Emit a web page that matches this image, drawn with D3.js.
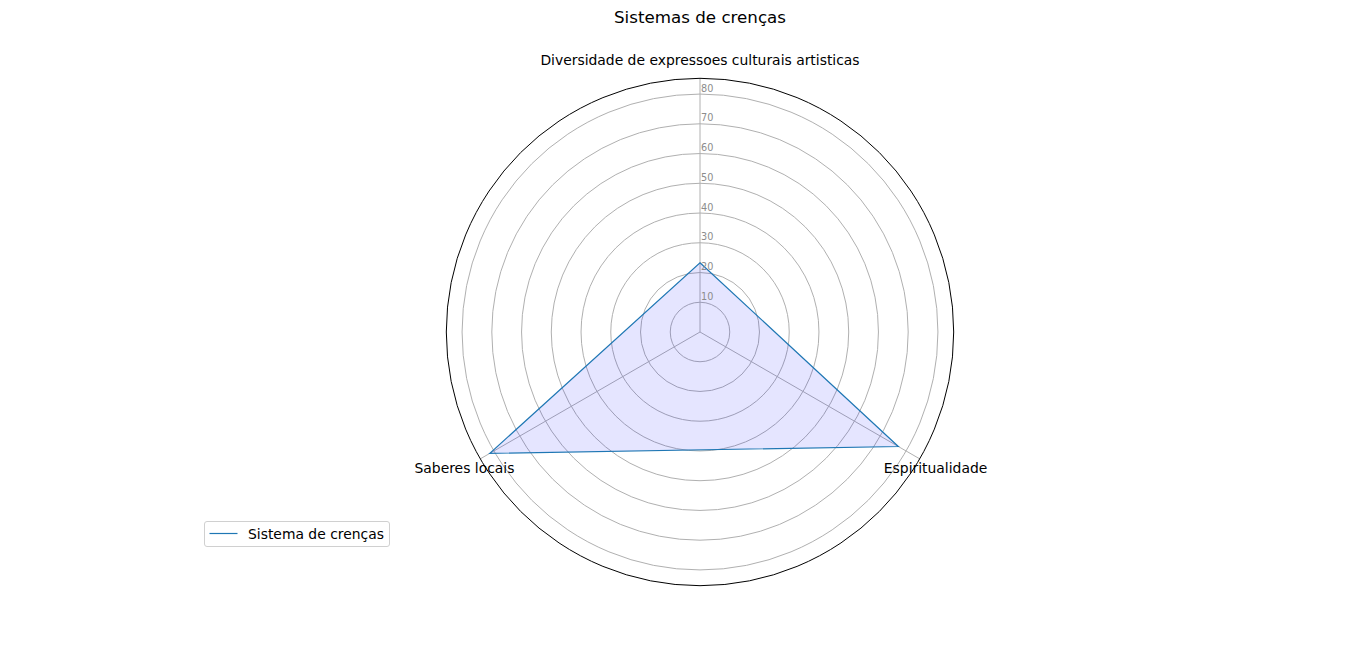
<!DOCTYPE html>
<html>
<head>
<meta charset="utf-8">
<script src="https://cdn.jsdelivr.net/npm/d3@7"></script>
<style>
  body { margin: 0; background: #fff; }
  text { font-family: "DejaVu Sans", sans-serif; }
</style>
</head>
<body>
<div id="main"></div>
<script>
// data
var categories = ["Diversidade de expressoes culturais artisticas", "Espiritualidade", "Saberes locais"];
var values = [23.3, 77, 81.6];
var ringTicks = [10, 20, 30, 40, 50, 60, 70, 80];
var seriesName = "Sistema de crenças";
var title = "Sistemas de crenças";

var width = 1366, height = 657;
var cx = 700, cy = 332;

var svg = d3.select("#main").append("svg")
    .attr("width", width)
    .attr("height", height);

var r = d3.scaleLinear().domain([0, 85.3]).range([0, 253.7]);
// clockwise from the top
var angle = d3.scaleLinear().domain([0, categories.length]).range([0, 2 * Math.PI]);

function px(a, rad) { return cx + rad * Math.sin(a); }
function py(a, rad) { return cy - rad * Math.cos(a); }

var g = svg.append("g");

// rings
g.selectAll("circle.ring")
  .data(ringTicks)
  .enter().append("circle")
    .attr("cx", cx).attr("cy", cy)
    .attr("r", d => r(d))
    .attr("fill", "none")
    .attr("stroke", "#b0b0b0")
    .attr("stroke-width", 1);

// spokes
g.selectAll("line.spoke")
  .data(categories)
  .enter().append("line")
    .attr("x1", cx).attr("y1", cy)
    .attr("x2", (d, i) => px(angle(i), r.range()[1]))
    .attr("y2", (d, i) => py(angle(i), r.range()[1]))
    .attr("stroke", "#b0b0b0")
    .attr("stroke-width", 1);

// data polygon
var radial = d3.lineRadial()
    .angle((d, i) => angle(i))
    .radius(d => r(d))
    .curve(d3.curveLinearClosed);

g.append("path")
    .attr("transform", "translate(" + cx + "," + cy + ")")
    .attr("d", radial(values))
    .attr("fill", "blue")
    .attr("fill-opacity", 0.1)
    .attr("stroke", "none");

g.append("path")
    .attr("transform", "translate(" + cx + "," + cy + ")")
    .attr("d", radial(values))
    .attr("fill", "none")
    .attr("stroke", "#1f77b4")
    .attr("stroke-width", 1.2);

// outer frame
g.append("circle")
    .attr("cx", cx).attr("cy", cy)
    .attr("r", r.range()[1])
    .attr("fill", "none")
    .attr("stroke", "#000")
    .attr("stroke-width", 1);

// ring labels
g.selectAll("text.rl")
  .data(ringTicks)
  .enter().append("text")
    .attr("x", cx + 1)
    .attr("y", d => cy - r(d) - 2.5)
    .attr("font-size", 9.7)
    .attr("fill", "#8c8c8c")
    .text(d => d);

// category labels
g.selectAll("text.cat")
  .data(categories)
  .enter().append("text")
    .attr("x", (d, i) => px(angle(i), 272))
    .attr("y", (d, i) => py(angle(i), 272))
    .attr("text-anchor", "middle")
    .attr("dominant-baseline", "central")
    .attr("font-size", 13.9)
    .attr("fill", "#000")
    .text(d => d);

// title
svg.append("text")
    .attr("x", cx).attr("y", 17)
    .attr("text-anchor", "middle")
    .attr("dominant-baseline", "central")
    .attr("font-size", 16.7)
    .text(title);

// legend
var lg = svg.append("g").attr("transform", "translate(204.5,521.5)");
lg.append("rect")
    .attr("width", 185).attr("height", 25)
    .attr("rx", 2.5)
    .attr("fill", "#fff")
    .attr("stroke", "#d0d0d0");
lg.append("line")
    .attr("x1", 5).attr("x2", 33)
    .attr("y1", 12).attr("y2", 12)
    .attr("stroke", "#1f77b4")
    .attr("stroke-width", 1.2);
lg.append("text")
    .attr("x", 43.5).attr("y", 12)
    .attr("dominant-baseline", "central")
    .attr("font-size", 13.9)
    .text(seriesName);
</script>
</body>
</html>
